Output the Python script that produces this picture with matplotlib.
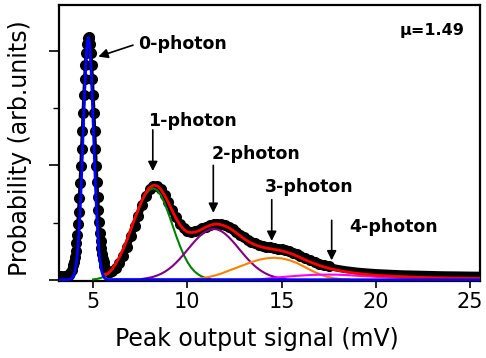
import numpy as np
import matplotlib
matplotlib.use("Agg")
import matplotlib.pyplot as plt
from matplotlib.ticker import MultipleLocator

# ----------------------- Data ----------------------------------------------------
# measured histogram (black circles)
data_x = [3.30, 3.50, 3.70, 3.80, 3.88,
          3.96, 4.00, 4.04, 4.08, 4.12, 4.16, 4.20, 4.24, 4.28, 4.32, 4.36, 4.40,
          4.44, 4.48, 4.52, 4.56, 4.60, 4.64, 4.68, 4.72, 4.76, 4.80, 4.84, 4.88,
          4.92, 4.96, 5.00, 5.04, 5.08, 5.12, 5.16, 5.20, 5.24, 5.28, 5.32, 5.36,
          5.40, 5.44, 5.48, 5.52, 5.56,
          5.6, 5.7, 5.8, 5.9, 6.0, 6.2, 6.4, 6.6, 6.8, 7.0, 7.2, 7.4, 7.6, 7.8,
          8.0, 8.2, 8.4, 8.6, 8.8, 9.0, 9.2, 9.4, 9.6, 9.8, 10.0, 10.2, 10.4, 10.6,
          10.8, 11.0, 11.2, 11.4, 11.6, 11.8, 12.0, 12.2, 12.4, 12.6, 12.8, 13.0,
          13.2, 13.4, 13.6, 13.8, 14.0, 14.2, 14.4, 14.6, 14.8, 15.0, 15.2, 15.4,
          15.6, 15.8, 16.0, 16.25, 16.5, 16.75, 17.0, 17.25, 17.5, 17.75, 18.0,
          18.25, 18.5, 18.75, 19.0, 19.5, 20.0, 20.5, 21.0, 21.5, 22.0, 22.5,
          23.0, 23.5, 24.0, 24.5, 25.0, 25.5]
data_y = [0.035, 0.035, 0.044, 0.058, 0.083,
          0.127, 0.160, 0.201, 0.254, 0.318, 0.395, 0.487, 0.594, 0.714, 0.848, 0.992, 1.146,
          1.303, 1.460, 1.613, 1.754, 1.880, 1.984, 2.061, 2.109, 2.125, 2.109, 2.061, 1.984,
          1.880, 1.754, 1.613, 1.460, 1.303, 1.146, 0.992, 0.857, 0.724, 0.606, 0.501, 0.411,
          0.336, 0.274, 0.222, 0.183, 0.152,
          0.120, 0.085, 0.070, 0.068, 0.075, 0.100, 0.150, 0.210, 0.290, 0.380, 0.470, 0.560, 0.650, 0.730,
          0.790, 0.820, 0.820, 0.790, 0.740, 0.680, 0.610, 0.545, 0.490, 0.450, 0.425, 0.420, 0.425, 0.435,
          0.450, 0.465, 0.478, 0.487, 0.490, 0.485, 0.475, 0.460, 0.440, 0.417, 0.393, 0.370,
          0.350, 0.333, 0.318, 0.306, 0.297, 0.290, 0.284, 0.278, 0.272, 0.266, 0.258, 0.248,
          0.236, 0.222, 0.207, 0.188, 0.170, 0.153, 0.139, 0.127, 0.117, 0.108, 0.100,
          0.093, 0.087, 0.082, 0.077, 0.070, 0.064, 0.060, 0.056, 0.053, 0.051, 0.049,
          0.047, 0.045, 0.044, 0.043, 0.042, 0.041]

# 0-photon fit (blue), drawn along the zero line too
p0_x = [3.22, 3.75, 3.80, 3.85, 3.90, 3.95, 4.00, 4.05, 4.10, 4.15, 4.20, 4.25, 4.30,
        4.35, 4.40, 4.45, 4.50, 4.55, 4.60, 4.65, 4.70, 4.75, 4.80, 4.85, 4.90, 4.95,
        5.00, 5.05, 5.10, 5.15, 5.20, 5.25, 5.30, 5.35, 5.40, 5.45, 5.50, 5.55, 5.60,
        5.65, 5.70, 5.75, 25.53]
p0_y = [0, 0.003, 0.005, 0.010, 0.018, 0.031, 0.052, 0.083, 0.130, 0.196, 0.287, 0.406,
        0.556, 0.736, 0.943, 1.169, 1.402, 1.627, 1.827, 1.984, 2.085, 2.120, 2.085, 1.984,
        1.827, 1.627, 1.402, 1.169, 0.943, 0.736, 0.556, 0.406, 0.287, 0.196, 0.130, 0.083,
        0.052, 0.031, 0.018, 0.010, 0.005, 0.003, 0]

# 1-photon fit (green)
p1_x = [5.0, 5.2, 5.4, 5.6, 5.8, 6.0, 6.2, 6.4, 6.6, 6.8, 7.0, 7.2, 7.4, 7.6, 7.8, 8.0,
        8.2, 8.4, 8.6, 8.8, 9.0, 9.2, 9.4, 9.6, 9.8, 10.0, 10.2, 10.4, 10.6, 10.8, 11.0, 11.2]
p1_y = [0.004, 0.008, 0.016, 0.030, 0.055, 0.090, 0.140, 0.200, 0.270, 0.350, 0.441, 0.529,
        0.614, 0.689, 0.749, 0.787, 0.800, 0.784, 0.738, 0.668, 0.581, 0.485, 0.389, 0.300,
        0.222, 0.158, 0.108, 0.071, 0.045, 0.027, 0.016, 0.009]

# 2-photon fit (purple)
p2_x = [7.6, 7.8, 8.0, 8.2, 8.4, 8.6, 8.8, 9.0, 9.2, 9.4, 9.6, 9.8, 10.0, 10.2, 10.4,
        10.6, 10.8, 11.0, 11.2, 11.4, 11.6, 11.8, 12.0, 12.2, 12.4, 12.6, 12.8, 13.0,
        13.2, 13.4, 13.6, 13.8, 14.0, 14.2, 14.4, 14.6, 14.8, 15.0, 15.2]
p2_y = [0.008, 0.013, 0.019, 0.027, 0.038, 0.052, 0.070, 0.092, 0.118, 0.149, 0.183,
        0.221, 0.260, 0.300, 0.338, 0.373, 0.403, 0.426, 0.440, 0.445, 0.440, 0.426, 0.403,
        0.373, 0.338, 0.300, 0.260, 0.221, 0.183, 0.149, 0.118, 0.092, 0.070, 0.052, 0.038,
        0.027, 0.019, 0.013, 0.008]

# 3-photon fit (orange)
p3_x = [10.2, 10.6, 11.0, 11.4, 11.8, 12.2, 12.6, 13.0, 13.4, 13.8, 14.2, 14.6, 15.0,
        15.4, 15.8, 16.2, 16.6, 17.0, 17.4, 17.8, 18.2, 18.6]
p3_y = [0.005, 0.010, 0.020, 0.035, 0.055, 0.080, 0.105, 0.130, 0.155, 0.175, 0.188,
        0.193, 0.188, 0.172, 0.148, 0.115, 0.080, 0.050, 0.027, 0.013, 0.006, 0.002]

# 4-photon fit (magenta)
p4_x = [13.4, 13.8, 14.2, 14.6, 15.0, 15.5, 16.0, 16.5, 17.0, 17.5, 18.0, 18.5, 19.0,
        19.5, 20.0, 21.0, 22.0, 23.0, 24.0, 25.0, 25.53]
p4_y = [0.0, 0.004, 0.010, 0.017, 0.024, 0.031, 0.037, 0.042, 0.045, 0.046, 0.045,
        0.041, 0.036, 0.031, 0.026, 0.019, 0.013, 0.009, 0.006, 0.004, 0.004]

# total fit (red)
fit_x = [5.6, 5.8, 6.0, 6.2, 6.4, 6.6, 6.8, 7.0, 7.2, 7.4, 7.6, 7.8, 8.0, 8.2, 8.4, 8.6,
         8.8, 9.0, 9.2, 9.4, 9.6, 9.8, 10.0, 10.2, 10.4, 10.6, 10.8, 11.0, 11.2, 11.4,
         11.6, 11.8, 12.0, 12.2, 12.4, 12.6, 12.8, 13.0, 13.2, 13.4, 13.6, 13.8, 14.0,
         14.2, 14.4, 14.6, 14.8, 15.0, 15.2, 15.4, 15.6, 15.8, 16.0, 16.5, 17.0, 17.5,
         18.0, 18.5, 19.0, 19.5, 20.0, 21.0, 22.0, 23.0, 24.0, 25.0, 25.53]
fit_y = [0.048, 0.057, 0.090, 0.140, 0.200, 0.270, 0.350, 0.441, 0.529, 0.614, 0.697,
         0.762, 0.806, 0.827, 0.822, 0.790, 0.738, 0.673, 0.603, 0.538, 0.483, 0.443,
         0.418, 0.413, 0.416, 0.428, 0.445, 0.462, 0.476, 0.485, 0.487, 0.481, 0.470,
         0.455, 0.434, 0.410, 0.385, 0.360, 0.339, 0.321, 0.306, 0.294, 0.285, 0.278,
         0.272, 0.266, 0.260, 0.253, 0.245, 0.235, 0.223, 0.209, 0.194, 0.157, 0.126,
         0.101, 0.082, 0.068, 0.057, 0.048, 0.040, 0.031, 0.024, 0.019, 0.016, 0.014, 0.013]

# annotation labels: text, text position, arrow start, arrow tip
labels = ["0-photon", "1-photon", "2-photon", "3-photon", "4-photon"]
label_xy = [(9.72, 2.06), (10.25, 1.39), (13.65, 1.10), (16.46, 0.81), (20.92, 0.46)]
arrow_from = [(7.12, 2.05), (8.17, 1.31), (11.38, 1.00), (14.48, 0.70), (17.66, 0.52)]
arrow_to = [(5.28, 1.95), (8.17, 0.95), (11.38, 0.585), (14.48, 0.34), (17.66, 0.17)]
mu_text = "\u03bc=1.49"

# ----------------------- Plotting ---------------------------
fig = plt.figure(figsize=(4.86, 3.58), dpi=100)
ax = fig.add_axes([0.1224, 0.2151, 0.8653, 0.7723])

dx = np.array(data_x)
dy = np.array(data_y)
peak = (dx >= 3.88) & (dx <= 5.6)
# beads along the narrow 0-photon peak, thick band elsewhere, thinner in the tail
ax.plot(dx[dx <= 3.9], dy[dx <= 3.9], color='black', lw=6, solid_capstyle='round', zorder=2)
ax.plot(dx[dx >= 5.56], dy[dx >= 5.56], color='black', lw=5, solid_capstyle='round', zorder=2)
ax.plot(dx[peak], dy[peak], color='black', lw=2.5, zorder=2)
beads = dx <= 17.6
ax.plot(dx[beads], dy[beads], color='black', lw=0, marker='o', markersize=8,
        markeredgewidth=0, zorder=2)

ax.plot(p1_x, p1_y, color='green', lw=1.5, zorder=3)
ax.plot(p2_x, p2_y, color='purple', lw=1.5, zorder=3)
ax.plot(p3_x, p3_y, color='#ff8000', lw=1.5, zorder=3)
ax.plot(p4_x, p4_y, color='magenta', lw=1.5, zorder=3)
ax.plot(fit_x, fit_y, color='red', lw=2.0, zorder=4)
ax.plot(p0_x, p0_y, color='blue', lw=2.0, zorder=5)

for txt, xy, a0, a1 in zip(labels, label_xy, arrow_from, arrow_to):
    ax.text(xy[0], xy[1], txt, fontsize=12.5, fontweight='bold', ha='center', va='center')
    ax.annotate("", xy=a1, xytext=a0,
                arrowprops=dict(arrowstyle='-|>', color='black', lw=1.2,
                                mutation_scale=14, shrinkA=0, shrinkB=0))
ax.text(22.98, 2.175, mu_text, fontsize=11.5, fontweight='bold', ha='center', va='center')

ax.set_xlim(3.22, 25.53)
ax.set_ylim(-0.01, 2.405)
ax.set_xticks([5, 10, 15, 20, 25])
ax.yaxis.set_major_locator(MultipleLocator(1))
ax.yaxis.set_minor_locator(MultipleLocator(0.5))
ax.set_yticklabels([])
ax.tick_params(axis='x', direction='out', length=5, width=1.2, labelsize=15, pad=3)
ax.tick_params(axis='y', which='major', direction='out', length=7, width=1.2)
ax.tick_params(axis='y', which='minor', direction='out', length=4, width=1.0)
for sp in ax.spines.values():
    sp.set_linewidth(1.6)

ax.set_xlabel("Peak output signal (mV)", fontsize=17)
ax.set_ylabel("Probability (arb.units)", fontsize=17)
ax.xaxis.set_label_coords(0.47, -0.165)
ax.yaxis.set_label_coords(-0.065, 0.48)

fig.savefig("out.png", dpi=100)
